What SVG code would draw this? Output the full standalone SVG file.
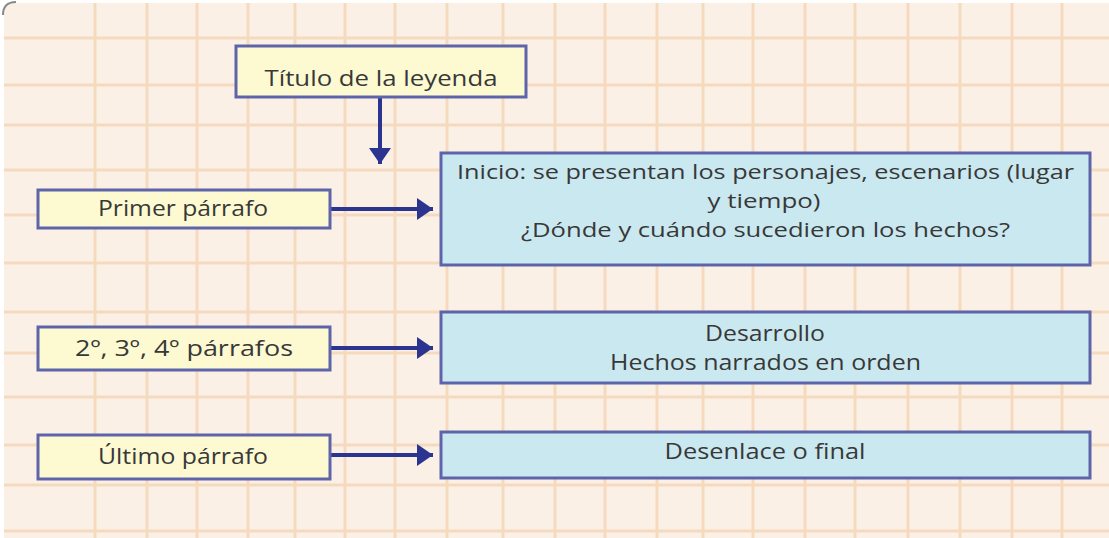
<svg xmlns="http://www.w3.org/2000/svg" width="1109" height="538" viewBox="0 0 1109 538">
  <defs>
    <style>
      .grid line { stroke: #F6DAC0; stroke-width: 3; }
      .ybox { fill: #FDFAD2; stroke: #5E64AA; stroke-width: 3; }
      .bbox { fill: #CAE8F0; stroke: #5E64AA; stroke-width: 3; }
      .t { font-family: "Open Sans", "Liberation Sans", sans-serif; font-size: 22px; fill: #383838; text-anchor: middle; }
      .s { font-size: 20px; }
      .conn { stroke: #2B358F; stroke-width: 4; fill: none; }
    </style>
    <marker id="ah" markerUnits="userSpaceOnUse" markerWidth="18" markerHeight="24" refX="16" refY="12" orient="auto">
      <path d="M0,1 L16,12 L0,23 Z" fill="#2B358F"/>
    </marker>
  </defs>
  <rect x="0" y="0" width="1109" height="538" fill="#FFFFFF"/>
  <path d="M4,16 Q4,3 17,3 H1109 V538 H4 Z" fill="#FAF0E5"/>
  <path d="M3,15 Q3,2 16,2" fill="none" stroke="#8A8A8A" stroke-width="2"/>
  <g class="grid" id="grid">
    <line x1="4" y1="38" x2="1109" y2="38"/>
    <line x1="4" y1="85" x2="1109" y2="85"/>
    <line x1="4" y1="125" x2="1109" y2="125"/>
    <line x1="4" y1="170" x2="1109" y2="170"/>
    <line x1="4" y1="215" x2="1109" y2="215"/>
    <line x1="4" y1="263" x2="1109" y2="263"/>
    <line x1="4" y1="312" x2="1109" y2="312"/>
    <line x1="4" y1="353" x2="1109" y2="353"/>
    <line x1="4" y1="397" x2="1109" y2="397"/>
    <line x1="4" y1="445" x2="1109" y2="445"/>
    <line x1="4" y1="485" x2="1109" y2="485"/>
    <line x1="4" y1="531" x2="1109" y2="531"/>
    <line x1="95" y1="3" x2="95" y2="538"/>
    <line x1="147" y1="3" x2="147" y2="538"/>
    <line x1="197" y1="3" x2="197" y2="538"/>
    <line x1="248" y1="3" x2="248" y2="538"/>
    <line x1="295" y1="3" x2="295" y2="538"/>
    <line x1="345" y1="3" x2="345" y2="538"/>
    <line x1="395" y1="3" x2="395" y2="538"/>
    <line x1="447" y1="3" x2="447" y2="538"/>
    <line x1="503" y1="3" x2="503" y2="538"/>
    <line x1="555" y1="3" x2="555" y2="538"/>
    <line x1="605" y1="3" x2="605" y2="538"/>
    <line x1="657" y1="3" x2="657" y2="538"/>
    <line x1="703" y1="3" x2="703" y2="538"/>
    <line x1="753" y1="3" x2="753" y2="538"/>
    <line x1="805" y1="3" x2="805" y2="538"/>
    <line x1="855" y1="3" x2="855" y2="538"/>
    <line x1="908" y1="3" x2="908" y2="538"/>
    <line x1="960" y1="3" x2="960" y2="538"/>
    <line x1="1012" y1="3" x2="1012" y2="538"/>
    <line x1="1062" y1="3" x2="1062" y2="538"/>
  </g>
  <g id="connectors">
    <line class="conn" x1="380" y1="98" x2="380" y2="164" stroke-width="5" marker-end="url(#ah)"/>
    <line class="conn" x1="330" y1="209" x2="433" y2="209" marker-end="url(#ah)"/>
    <line class="conn" x1="330" y1="348" x2="433" y2="348" marker-end="url(#ah)"/>
    <line class="conn" x1="330" y1="455" x2="433" y2="455" marker-end="url(#ah)"/>
  </g>
  <g id="titulo">
    <rect class="ybox" x="236" y="46" width="290" height="51"/>
    <text class="t" x="381" y="86" textLength="233" lengthAdjust="spacingAndGlyphs">Título de la leyenda</text>
  </g>
  <g id="primer">
    <rect class="ybox" x="38" y="190" width="292" height="38"/>
    <text class="t" x="183" y="216" textLength="170" lengthAdjust="spacingAndGlyphs">Primer párrafo</text>
  </g>
  <g id="intermedios">
    <rect class="ybox" x="38" y="327" width="292" height="43"/>
    <text class="t" x="184" y="356" textLength="218" lengthAdjust="spacingAndGlyphs">2º, 3º, 4º párrafos</text>
  </g>
  <g id="ultimo">
    <rect class="ybox" x="38" y="435" width="292" height="44"/>
    <text class="t" x="183" y="464" textLength="170" lengthAdjust="spacingAndGlyphs">Último párrafo</text>
  </g>
  <g id="inicio">
    <rect class="bbox" x="441" y="153" width="649" height="112"/>
    <text class="t s" x="765.5" y="179" textLength="617" lengthAdjust="spacingAndGlyphs">Inicio: se presentan los personajes, escenarios (lugar</text>
    <text class="t s" x="764" y="208" textLength="113" lengthAdjust="spacingAndGlyphs">y tiempo)</text>
    <text class="t s" x="765.5" y="237" textLength="489" lengthAdjust="spacingAndGlyphs">¿Dónde y cuándo sucedieron los hechos?</text>
  </g>
  <g id="desarrollo">
    <rect class="bbox" x="441" y="312" width="649" height="71"/>
    <text class="t" x="765" y="341" textLength="120" lengthAdjust="spacingAndGlyphs">Desarrollo</text>
    <text class="t" x="765.5" y="370" textLength="311" lengthAdjust="spacingAndGlyphs">Hechos narrados en orden</text>
  </g>
  <g id="desenlace">
    <rect class="bbox" x="441" y="432" width="649" height="46"/>
    <text class="t" x="765" y="459" textLength="201" lengthAdjust="spacingAndGlyphs">Desenlace o final</text>
  </g>
</svg>
